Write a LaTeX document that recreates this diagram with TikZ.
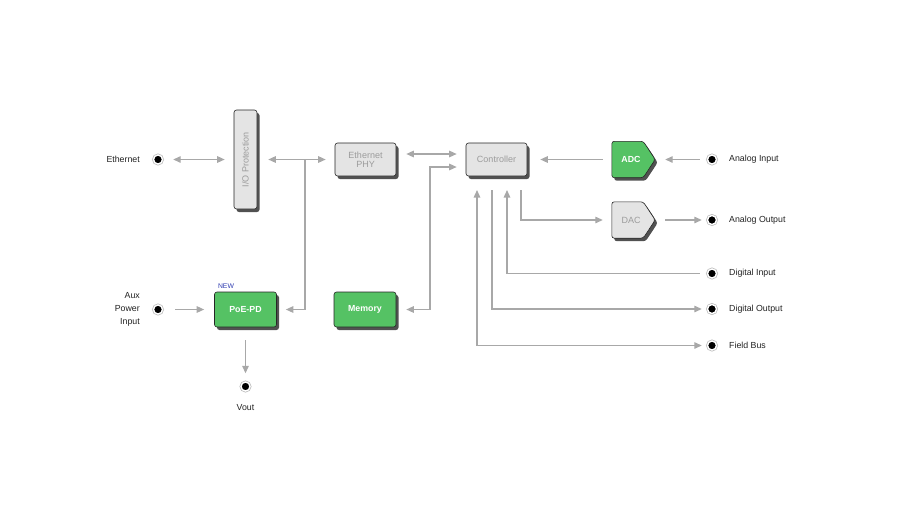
\documentclass[tikz,border=0pt]{standalone}
\usepackage{fontspec}
\usepackage{graphicx}
\setmainfont{Liberation Sans}
\usetikzlibrary{arrows.meta,shadows,calc}
\definecolor{lg}{HTML}{A8A8A8}
\definecolor{boxgrey}{HTML}{E4E4E4}
\definecolor{grtxt}{HTML}{9C9C9C}
\definecolor{grn}{HTML}{55C264}
\definecolor{newblue}{HTML}{2E3BB0}
\definecolor{lbltxt}{HTML}{222222}
\begin{document}
\begin{tikzpicture}[x=1pt,y=-1pt,
  >={Triangle[length=7.5pt,width=6.5pt]},
  shad/.style={drop shadow={shadow xshift=2.5pt,shadow yshift=-3pt,fill=black!80,opacity=0.85}},
  boxbase/.style={draw=black!85,line width=0.6pt,rounded corners=2.5pt,inner sep=1pt,shad},
  gbox/.style={boxbase,fill=boxgrey,text=grtxt,font=\fontsize{9}{10}\selectfont},
  grbox/.style={boxbase,fill=grn,text=white,font=\fontsize{8.8}{10}\selectfont\bfseries,minimum width=62pt,minimum height=35pt},
  sigtext/.style={minimum width=43pt,minimum height=36pt,inner sep=0pt},
  term/.style={circle,fill=black,draw=white,line width=1.4pt,minimum size=9pt,inner sep=0pt,
    preaction={draw=lg!80,line width=2.8pt}},
  lbl/.style={text=lbltxt,font=\fontsize{8.8}{13}\selectfont,inner sep=1pt},
  ln/.style={draw=lg,line width=1.3pt}
]
\useasboundingbox (0,0) rectangle (900,528);

% terminals and labels
\node[term] (eth) at (158,159.5) {};
\node[lbl,anchor=east] (ethl) at (141,159.5) {Ethernet};
\node[term] (aux) at (158,309.5) {};
\node[lbl,anchor=east,align=right] (auxl) at (141,309) {Aux\\Power\\Input};
\node[term] (vout) at (245.5,386.5) {};
\node[lbl] (voutl) at (245.5,407.5) {Vout};
\node[term] (ain) at (712,159.5) {};
\node[lbl,anchor=west] (ainl) at (728,159.5) {Analog Input};
\node[term] (aout) at (712,220) {};
\node[lbl,anchor=west] (aoutl) at (728,220) {Analog Output};
\node[term] (din) at (712,273.5) {};
\node[lbl,anchor=west] (dinl) at (728,273.5) {Digital Input};
\node[term] (dout) at (712,309) {};
\node[lbl,anchor=west] (doutl) at (728,309) {Digital Output};
\node[term] (fb) at (712,345.5) {};
\node[lbl,anchor=west] (fbl) at (728,345.5) {Field Bus};

% boxes
\node[gbox,minimum width=23pt,minimum height=99pt] (io) at (245.5,159.5) {\rotatebox{90}{I/O Protection}};
\node[gbox,minimum width=61pt,minimum height=33pt,align=center] (phy) at (365.5,159.5) {Ethernet\\[-1pt]PHY};
\node[gbox,minimum width=61pt,minimum height=33pt] (ctrl) at (496.5,159.5) {Controller};
\node[grbox] (poe) at (245.5,309.5) {PoE-PD};
\node[grbox] (mem) at (365,309.5) {Memory};
\node[text=newblue,font=\fontsize{6.8}{7}\selectfont,inner sep=0pt] (new) at (226,286) {NEW};

% ADC / DAC pentagons
\node[sigtext] (adc) at (633.5,159.5) {};
\node[sigtext] (dac) at (633.5,220) {};
\draw[boxbase,fill=grn] (adc.north west) -- ($(adc.north east)+(-12,0)$) -- (adc.east)
  -- ($(adc.south east)+(-12,0)$) -- (adc.south west) -- cycle;
\draw[boxbase,fill=boxgrey] (dac.north west) -- ($(dac.north east)+(-12,0)$) -- (dac.east)
  -- ($(dac.south east)+(-12,0)$) -- (dac.south west) -- cycle;
\node[text=white,font=\fontsize{8.8}{10}\selectfont\bfseries] (adct) at ($(adc.center)+(-2.5,0)$) {ADC};
\node[text=grtxt,font=\fontsize{9}{10}\selectfont] (dact) at ($(dac.center)+(-2.5,0)$) {DAC};

% junction coordinates
\coordinate (br) at (305,159.5);
\coordinate (mj) at (430,240);
\coordinate (c1) at (477,190);
\coordinate (c2) at (492,190);
\coordinate (c3) at (507,190);
\coordinate (c4) at (521,190);

% connectors
\draw[ln,<->,shorten <=10pt,shorten >=9pt] (eth.east) -- (io.west);
\draw[ln,<->,shorten <=11pt,shorten >=9pt] (io.east |- br) -- (phy.west);
\draw[ln,->,shorten >=9pt] (br) |- (poe.east);
\draw[ln,<->,shorten <=10pt,shorten >=9pt] ($(phy.east)+(0,-5.5)$) -- ($(ctrl.west)+(0,-5.5)$);
\draw[ln,<->,shorten <=10pt,shorten >=9pt] (mem.east) -| (mj) |- ($(ctrl.west)+(0,7.5)$);
\draw[ln,->,shorten <=9pt,shorten >=13pt] (adc.west) -- (ctrl.east);
\draw[ln,->,shorten <=7pt,shorten >=10pt] (ain.west) -- (adc.east);
\draw[ln,->,shorten >=9pt] (c4) |- (dac.west);
\draw[ln,->,shorten <=10pt,shorten >=5pt] (dac.east) -- (aout.west);
\draw[ln,->,shorten <=7pt] (din.west) -| (c3);
\draw[ln,->,shorten >=5pt] (c2) |- (dout.west);
\draw[ln,<->,shorten >=5pt] (c1) |- (fb.west);
\draw[ln,->,shorten <=12pt,shorten >=10pt] (aux.east) -- (poe.west);
\draw[ln,->,shorten <=13pt,shorten >=8pt] (poe.south) -- (vout.north);
\end{tikzpicture}
\end{document}
